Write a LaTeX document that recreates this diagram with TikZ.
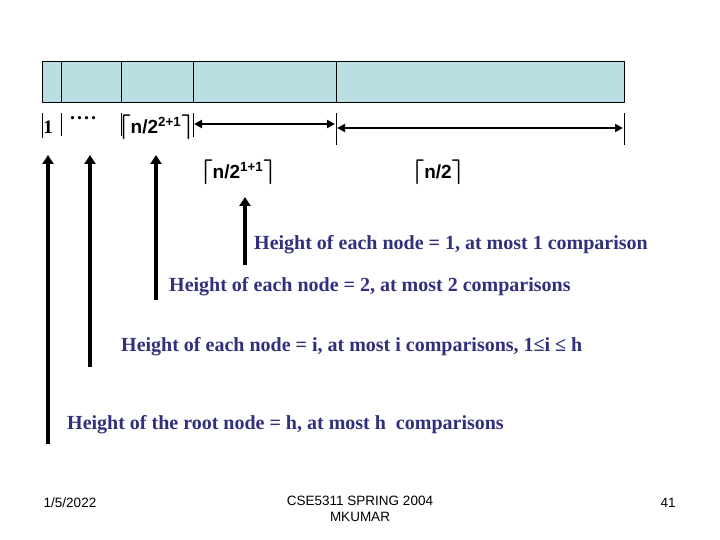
\documentclass[tikz,border=0pt]{standalone}
\usepackage{fontspec}
\setmainfont{Liberation Serif}
\setsansfont{Liberation Sans}
\usetikzlibrary{arrows.meta}
\definecolor{barfill}{RGB}{186,222,226}
\definecolor{txtblue}{RGB}{48,48,125}
\newcommand{\lcl}{{\fontsize{24}{24}\selectfont\boldmath$\lceil$}}
\newcommand{\rcl}{{\fontsize{24}{24}\selectfont\boldmath$\rceil$}}
\tikzset{
  hlabel/.style={anchor=west, text=txtblue, font=\fontsize{20}{22}\selectfont\bfseries, inner sep=0pt},
  slabel/.style={font=\sffamily\bfseries\fontsize{19}{21}\selectfont, inner sep=0pt},
  foot/.style={font=\sffamily\fontsize{13.5}{16}\selectfont, inner sep=0pt, align=center},
  span/.style={{Triangle[length=8pt,width=8pt]}-{Triangle[length=8pt,width=8pt]}, line width=2.6pt, shorten <=1pt, shorten >=1pt},
  up/.style={-{Triangle[length=9pt,width=11pt]}, line width=3.6pt}
}
\begin{document}
\begin{tikzpicture}[x=1pt, y=-1pt, line join=round]
\useasboundingbox (0,0) rectangle (720,540);
% the array
\fill[barfill] (42,61) rectangle (624,102);
\draw (42,61) rectangle (624,102);
\foreach \x in {61,121,193,336} \draw (\x,61) -- (\x,102);
% ticks under the array
\foreach \x/\b in {42/138,61/136,121/136,193/137,336/145,624/145} \draw (\x,113) -- (\x,\b);
% labels of the parts
\node[font=\bfseries\fontsize{19}{21}\selectfont, inner sep=0pt] (one) at (48,127) {1};
\node[font=\bfseries\fontsize{20}{22}\selectfont, inner sep=0pt] (dots) at (83,118) {.\kern2pt.\kern2pt.\kern2pt.};
\node[slabel] (l3) at (156,127) {\lcl n/2\textsuperscript{2+1}\rcl};
\node[slabel] (l2) at (238,172) {\lcl n/2\textsuperscript{1+1}\rcl};
\node[slabel] (l1) at (438,172) {\lcl n/2\rcl};
\coordinate (a) at (193,124);
\coordinate (b) at (336,124);
\coordinate (c) at (336,128);
\coordinate (d) at (624,128);
\draw[span] (a) -- (b);
\draw[span] (c) -- (d);
% heights
\node[hlabel] (h1) at (254,245) {Height of each node = 1, at most 1 comparison};
\node[hlabel] (h2) at (169,287) {Height of each node = 2, at most 2 comparisons};
\node[hlabel] (hi) at (121,347) {Height of each node = i, at most i comparisons, 1≤i ≤ h};
\node[hlabel] (hr) at (67,425) {Height of the root node = h, at most h\ \ comparisons};
\coordinate (u1) at (245,265); \coordinate (v1) at (245,197);
\coordinate (u2) at (156,300); \coordinate (v2) at (156,155);
\coordinate (ui) at (90,367);  \coordinate (vi) at (90,155);
\coordinate (ur) at (48,444);  \coordinate (vr) at (48,155);
\draw[up] (u1) -- (v1);
\draw[up] (u2) -- (v2);
\draw[up] (ui) -- (vi);
\draw[up] (ur) -- (vr);
% footer
\node[foot] (date) at (70,503) {1/5/2022};
\node[foot, anchor=north] (course) at (360,496) {CSE5311 SPRING 2004\\MKUMAR};
\node[foot] (page) at (668,503) {41};
\end{tikzpicture}
\end{document}
